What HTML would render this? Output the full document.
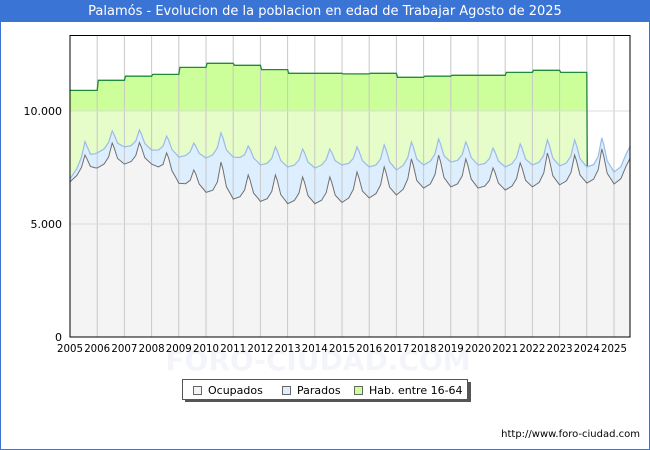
<!DOCTYPE html>
<html><head><meta charset="utf-8"><style>
body{margin:0;background:#fff;}
#wrap{position:relative;width:650px;height:450px;overflow:hidden;font-family:"DejaVu Sans","Liberation Sans",sans-serif;}
#title{position:absolute;left:0;top:0;width:650px;height:22px;background:#3a75d6;color:#fff;font-size:13px;line-height:23px;text-align:center;}
#frame{position:absolute;left:0;top:0;width:648px;height:448px;border:1px solid #3a75d6;}
</style></head><body>
<div id="wrap">
<div id="frame"></div>
<div id="title">Palamós - Evolucion de la poblacion en edad de Trabajar Agosto de 2025</div>
<svg id="svg" width="650" height="450" style="position:absolute;left:0;top:0"></svg>
</div>
<script>
const years=[2005,2006,2007,2008,2009,2010,2011,2012,2013,2014,2015,2016,2017,2018,2019,2020,2021,2022,2023,2024,2025];
const habByYear=[10910,11360,11540,11620,11930,12110,12020,11830,11670,11670,11640,11670,11490,11540,11580,11580,11710,11800,11710];
const ocupJan=[6870,7480,7650,7650,6800,6400,6100,6000,5900,5900,5950,6150,6280,6590,6640,6590,6500,6640,6730,6810,6770];
const ocupPeak=[8050,8580,8600,8140,7390,7740,7170,7170,7080,7080,7300,7520,7880,8050,7880,7480,7700,8140,8050,8320];
const paradosJan=[130,660,760,620,1160,1520,1860,1610,1620,1580,1660,1370,1110,1020,1100,1020,1020,970,840,710,530];
const paradosPeak=[590,540,560,750,1190,1290,1280,1240,1240,1240,1110,980,750,710,750,880,840,580,670,490];
const ocupEnd=7920, paradosEnd=530, endT=2025.6;
const yTicks=[0,5000,10000], yTickLabels=["0","5.000","10.000"];

const NS="http://www.w3.org/2000/svg", svg=document.getElementById('svg');
const X0=70,X1=630,Y0=337,PX=27.2;
const xs=t=>X0+(t-2005)*PX, ys=v=>Y0-v*113/5000;
function el(tag,attrs,parent){const e=document.createElementNS(NS,tag);for(const k in attrs)e.setAttribute(k,attrs[k]);(parent||svg).appendChild(e);return e;}

const shapeT=[0,0.25,0.42,0.55,0.62,0.75,0.92];
const shapeF=[0,0.12,0.4,1,0.8,0.3,0.1];
function series(jan,peak,end){
  const pts=[];
  for(let i=0;i<years.length;i++){
    if(i>=peak.length){pts.push([years[i],jan[i]]);break;}
    const nextJan=jan[i+1];
    for(let k=0;k<shapeT.length;k++){
      const base=jan[i]+(nextJan-jan[i])*shapeT[k];
      pts.push([years[i]+shapeT[k],base+(peak[i]-base)*shapeF[k]]);
    }
  }
  const last=years[years.length-1];
  pts.push([last+0.25,jan[years.length-1]+ (end-jan[years.length-1])*0.2]);
  pts.push([last+0.45,end-(end-jan[years.length-1])*0.3]);
  pts.push([endT,end]);
  return pts;
}
const ocupPts=series(ocupJan,ocupPeak,ocupEnd);
const parJan=ocupJan.map((v,i)=>v+paradosJan[i]);
const parPeak=ocupPeak.map((v,i)=>v+paradosPeak[i]);
const bluePts=series(parJan,parPeak,ocupEnd+paradosEnd);

const habPts=[];
for(let i=0;i<habByYear.length;i++){habPts.push([years[i]+(i?0.04:0),habByYear[i]]);habPts.push([years[i]+1,habByYear[i]]);}
const habEnd=years[habByYear.length];
function interp(pts,t){for(let i=1;i<pts.length;i++){if(pts[i][0]>=t){const a=pts[i-1],b=pts[i];return a[1]+(b[1]-a[1])*(t-a[0])/((b[0]-a[0])||1);}}return pts[pts.length-1][1];}
habPts.push([habEnd+0.02,interp(bluePts,habEnd+0.02)]);

const toPath=p=>p.map((q,i)=>(i?'L':'M')+xs(q[0]).toFixed(1)+','+ys(q[1]).toFixed(1)).join('');
const defs=el('defs',{});
const cA=el('clipPath',{id:'above'},defs);el('rect',{x:X0,y:0,width:600,height:ys(10000)},cA);
const cB=el('clipPath',{id:'below'},defs);el('rect',{x:X0,y:ys(10000),width:600,height:400},cB);

const wm=el('text',{x:318,y:370,'text-anchor':'middle','font-size':28,fill:'#f4f5fb','font-weight':'bold'});wm.textContent='FORO-CIUDAD.COM';


const habArea=toPath(habPts)+`L${xs(habPts[habPts.length-1][0])},${Y0}L${X0},${Y0}Z`;
const g1=el('path',{d:habArea,fill:'#ccff99','clip-path':'url(#above)'});

const g2=el('path',{d:habArea,fill:'#e6fcc9','clip-path':'url(#below)'});

const bA=el('path',{d:toPath(bluePts)+`L${xs(endT)},${Y0}L${X0},${Y0}Z`,fill:'#ddeeff'});

const oA=el('path',{d:toPath(ocupPts)+`L${xs(endT)},${Y0}L${X0},${Y0}Z`,fill:'#f4f4f4'});


for(let i=1;i<years.length;i++){const g=el('line',{x1:xs(years[i]),x2:xs(years[i]),y1:36,y2:Y0,stroke:'#c8c8c8','stroke-width':1});
}
yTicks.forEach((v,i)=>{if(v>0){const g=el('line',{x1:X0,x2:X1,y1:ys(v),y2:ys(v),stroke:'#dcdcdc'});
}
const t=el('text',{x:62,y:ys(v)+4,'text-anchor':'end','font-size':11,fill:'#000'});t.textContent=yTickLabels[i];
});

const hL=el('path',{d:toPath(habPts),fill:'none',stroke:'#1e8a3a','stroke-width':1.3});

const bL=el('path',{d:toPath(bluePts),fill:'none',stroke:'#9bbbe8','stroke-width':1.2});

const oL=el('path',{d:toPath(ocupPts),fill:'none',stroke:'#707070','stroke-width':1});


const fr=el('rect',{x:X0,y:35.5,width:X1-X0,height:Y0-35.5,fill:'none',stroke:'#000','stroke-width':1});


years.forEach(y=>{const t=el('text',{x:xs(y),y:352,'text-anchor':'middle','font-size':10.5,fill:'#000',textLength:26,lengthAdjust:'spacingAndGlyphs'});t.textContent=y;
});

const lg=el('g',{});
el('rect',{x:185,y:382,width:286,height:20,fill:'#555'},lg);
el('rect',{x:182.5,y:379.5,width:285,height:20,fill:'#fff',stroke:'#555'},lg);
[['Ocupados','#f4f4f4',193,'legend-ocupados'],['Parados','#ddeeff',282,'legend-parados'],['Hab. entre 16-64','#ccff99',354,'legend-hab']].forEach(l=>{
const g=el('g',{},lg);
el('rect',{x:l[2]+0.5,y:386.5,width:8,height:8,fill:l[1],stroke:'#666'},g);
const t=el('text',{x:l[2]+15,y:394,'font-size':11,fill:'#000'},g);t.textContent=l[0];});

const u=el('text',{x:640,y:437,'text-anchor':'end','font-size':10,fill:'#000'});u.textContent='http://www.foro-ciudad.com';

</script>
</body></html>
